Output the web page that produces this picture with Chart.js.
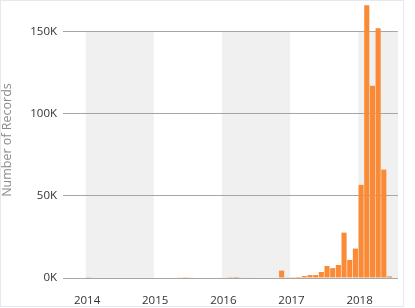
<!DOCTYPE html>
<html>
<head>
<meta charset="utf-8">
<script src="https://cdn.jsdelivr.net/npm/chart.js@4/dist/chart.umd.min.js"></script>
<style>
  html, body { margin: 0; padding: 0; background: #fff; }
  #frame { position: absolute; left: 0; top: 0; width: 402px; height: 305px; border: 1px solid #e4e8ef; }
  #wrap { position: absolute; left: 0; top: 0; width: 415px; height: 308px; }
</style>
</head>
<body>
<div id="frame"></div>
<div id="wrap"><canvas id="records-chart" width="415" height="308"></canvas></div>
<script>
// months shown on the axis: Sep 2013 .. Jul 2018
const months = [
  '2013-09', '2013-10', '2013-11', '2013-12',
  '2014-01', '2014-02', '2014-03', '2014-04', '2014-05', '2014-06', '2014-07', '2014-08', '2014-09', '2014-10', '2014-11', '2014-12',
  '2015-01', '2015-02', '2015-03', '2015-04', '2015-05', '2015-06', '2015-07', '2015-08', '2015-09', '2015-10', '2015-11', '2015-12',
  '2016-01', '2016-02', '2016-03', '2016-04', '2016-05', '2016-06', '2016-07', '2016-08', '2016-09', '2016-10', '2016-11', '2016-12',
  '2017-01', '2017-02', '2017-03', '2017-04', '2017-05', '2017-06', '2017-07', '2017-08', '2017-09', '2017-10', '2017-11', '2017-12',
  '2018-01', '2018-02', '2018-03', '2018-04', '2018-05', '2018-06', '2018-07'
];
// number of records per month
const records = [
  0, 0, 0, 0,
  150, 0, 0, 0, 0, 0, 0, 0, 0, 0, 0, 0,
  0, 0, 0, 0, 400, 500, 400, 0, 0, 0, 0, 350,
  0, 500, 600, 0, 350, 0, 0, 0, 0, 0, 4500, 400,
  500, 600, 1200, 1800, 1800, 3700, 7300, 6000, 7900, 27600, 11000, 17900,
  56700, 166000, 117000, 152000, 66000, 1000, 0
];
const yTicks = [0, 50000, 100000, 150000];
const shadedYears = ['2014', '2016', '2018'];

const yearBands = {
  id: 'yearBands',
  beforeDraw(chart) {
    const { ctx, chartArea, scales: { x, y } } = chart;
    const half = (x.getPixelForValue(1) - x.getPixelForValue(0)) / 2;
    const top = y.getPixelForValue(150000);
    ctx.save();
    ctx.fillStyle = '#f0f0f0';
    shadedYears.forEach(yr => {
      const i = months.indexOf(yr + '-01');
      const j = months.indexOf((+yr + 1) + '-01');
      const left = x.getPixelForValue(i) - half;
      const right = j < 0 ? chartArea.right : x.getPixelForValue(j) - half;
      ctx.fillRect(left, top, right - left, chartArea.bottom - top);
    });
    ctx.restore();
  }
};

const ctx = document.getElementById('records-chart').getContext('2d');
const RecordsChart = new Chart(ctx, {
  type: 'bar',
  data: {
    labels: months,
    datasets: [{
      data: records,
      backgroundColor: '#fb8a36',
      barPercentage: 0.9,
      categoryPercentage: 1.0
    }]
  },
  options: {
    responsive: false,
    animation: false,
    layout: { padding: { top: 2, right: 17, left: 0, bottom: 0 } },
    scales: {
      x: {
        grid: { display: false },
        border: { display: false },
        ticks: {
          autoSkip: false,
          maxRotation: 0,
          padding: 8,
          color: '#333',
          font: { family: 'Open Sans', size: 11.5 },
          labelOffset: -1.5,
          callback: function (value) {
            const m = months[value];
            return m.endsWith('-01') ? m.slice(0, 4) : '';
          }
        },
        afterFit: function (scale) { scale.height = 30; }
      },
      y: {
        min: 0,
        max: 168000,
        border: { display: false },
        grid: { color: '#a6a6a6', lineWidth: 1, drawTicks: false },
        afterBuildTicks: function (scale) {
          scale.ticks = yTicks.map(v => ({ value: v }));
        },
        ticks: {
          padding: 6,
          color: '#333',
          font: { family: 'Open Sans', size: 11.5 },
          callback: function (value) { return (value / 1000) + 'K'; }
        },
        title: {
          display: true,
          text: 'Number of Records',
          color: '#8a8a8a',
          font: { family: 'Open Sans', size: 12.5 },
          padding: { top: 0, bottom: 4 }
        },
        afterFit: function (scale) {
          scale.width = 63;
          scale.paddingTop = 0;
          scale.paddingBottom = 0;
        }
      }
    },
    plugins: {
      legend: { display: false },
      tooltip: { enabled: false }
    }
  },
  plugins: [yearBands]
});
</script>
</body>
</html>
